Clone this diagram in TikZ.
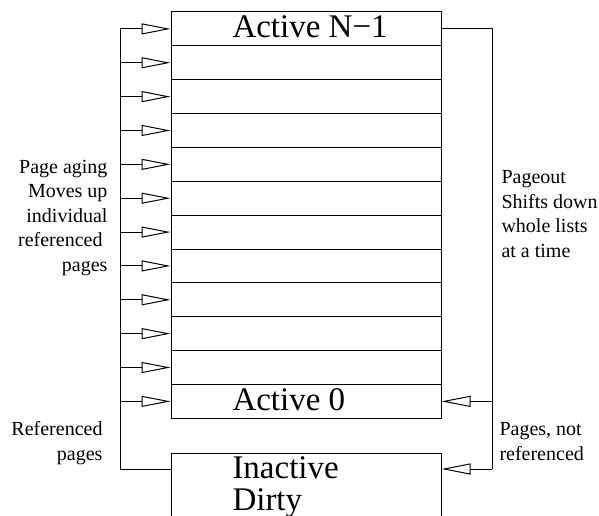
\documentclass[tikz,border=0pt]{standalone}
\usepackage{fontspec}
\setmainfont{Liberation Serif}
\usetikzlibrary{arrows.meta}
\begin{document}
\begin{tikzpicture}[x=1pt, y=-1pt, line width=1pt, line join=round,
  >={Triangle[open,length=29pt,width=11pt]},
  row/.style={draw, minimum width=270pt, minimum height=33.86pt, inner sep=0pt},
  big/.style={font=\fontsize{33}{32}\selectfont, inner sep=0pt, anchor=base west, align=left},
  side/.style={font=\fontsize{20}{24.5}\selectfont, inner sep=0pt}]
\def\h{33.86} \def\bot{418.3}
\useasboundingbox (0,0) rectangle (599,516);
\clip (0,0) rectangle (599,516);
\foreach \i in {0,...,11}
  \node[row] (a\i) at (306,{\bot-(\i+0.5)*\h}) {};
\node[big] (tn) at (232,37.5) {Active N−1};
\node[big] (t0) at (232,410.5) {Active 0};
\node[row, anchor=north, minimum height=100pt] (ina) at (306,453) {};
\node[big] (ti) at (232,510) {Inactive\\Dirty};
\coordinate (lft) at (120,469);
\coordinate (rgt) at (492,469);
\foreach \i in {0,...,11}
  \draw[->] (a\i.west -| lft) -- (a\i.west);
\draw (a11.west -| lft) -- (lft) -- (lft -| ina.west);
\draw (a11.east) -| (rgt);
\draw[->] (a0.east -| rgt) -- (a0.east);
\draw[->] (rgt) -- (rgt -| ina.east);
\node[side, anchor=base east, align=right] (age) at (108,271) {Page aging\\Moves up\\individual\\referenced\kern5pt\\pages};
\node[side, anchor=base west, align=left] (out) at (501,257) {Pageout\\Shifts down\\whole lists\\at a time};
\node[side, anchor=base east, align=right] (refd) at (103,460) {Referenced\\pages};
\node[side, anchor=base west, align=left] (notr) at (499,460) {Pages, not\\referenced};
\end{tikzpicture}
\end{document}
